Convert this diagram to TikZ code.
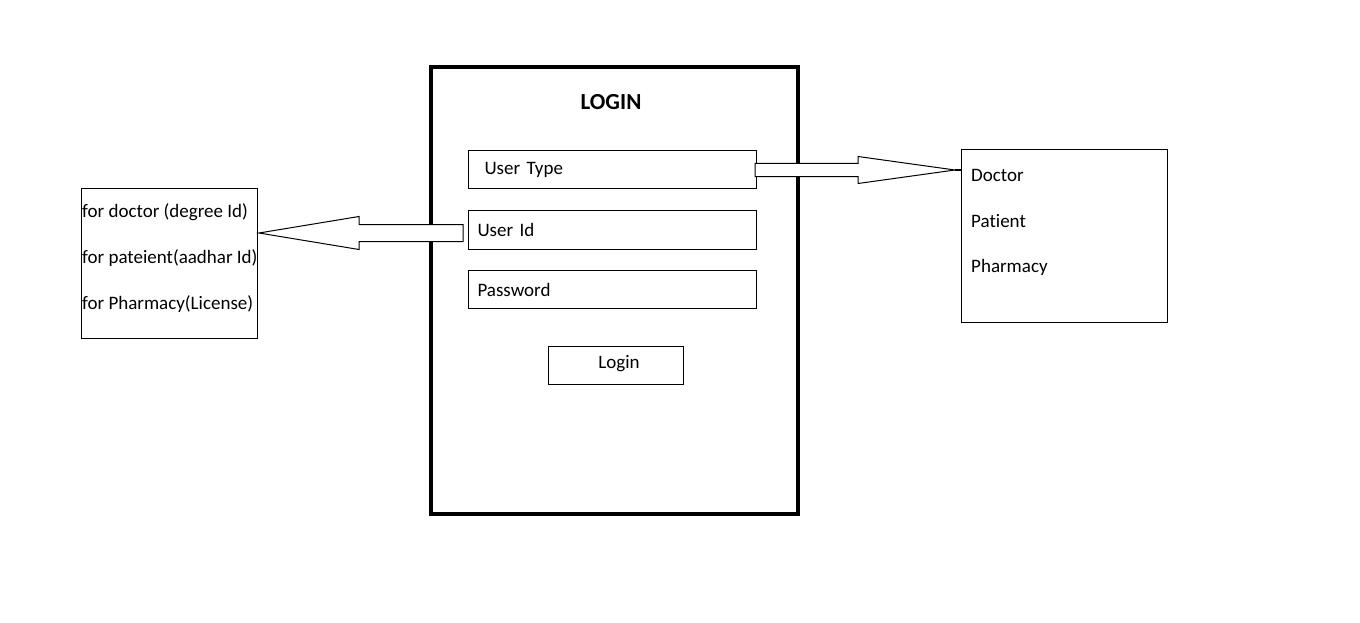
\documentclass[tikz,border=0pt]{standalone}
\usepackage{fontspec}
\setmainfont{Carlito}[Ligatures=NoCommon]
\usepackage{tikz}
\usetikzlibrary{calc}
\usetikzlibrary{positioning}
\tikzstyle{field} = [draw, rectangle, line width=1, anchor=north west, align=left, font=\fontsize{19}{23}\selectfont]
\tikzstyle{listbox} = [draw, rectangle, line width=1, anchor=north west, inner sep=0]
\tikzstyle{item} = [anchor=west, inner sep=0, font=\fontsize{19}{23}\selectfont]
\tikzstyle{blockarrow} = [draw, line width=1, fill=white, line join=miter]

\begin{document}
\begin{tikzpicture}[x=1pt, y=-1pt]
\useasboundingbox (0,0) rectangle (1360,623);
% login window
\node [draw, rectangle, line width=4, minimum width=367, minimum height=447, inner sep=0] (frame) at (614.5, 290.5) {};
\node [font=\bfseries\fontsize{23}{27}\selectfont, inner sep=0] (title) at (611, 102) {LOGIN};
\node [field, inner xsep=16, text width=256, minimum height=38] (utype) at (468, 150) {User Type};
\node [field, inner xsep=9, text width=270, minimum height=39] (uid) at (468, 210) {User Id};
\node [field, inner xsep=9, text width=270, minimum height=38] (pwd) at (468, 270) {Password};
\node [draw, rectangle, line width=1, minimum width=135, minimum height=38, inner sep=0] (btn) at (615.5, 365) {};
\node [item, anchor=center] (btntext) at (619, 364) {Login};
% user types
\node [listbox, minimum width=206, minimum height=173] (roles) at (961, 149) {};
\node [item] (doc) at (971, 175) {Doctor};
\node [item] (pat) at (971, 221) {Patient};
\node [item] (pha) at (971, 267) {Pharmacy};
% id per user type
\node [listbox, minimum width=176, minimum height=150] (ids) at (81, 188) {};
\node [item] (docid) at (82, 212) {for doctor (degree Id)};
\node [item] (patid) at (82, 258) {for pateient(aadhar Id)};
\node [item] (phaid) at (82, 304) {for Pharmacy(License)};
% arrows
\coordinate (rs) at ($(utype.east)+(-2,0.5)$);
\coordinate (rtip) at ($(roles.north west)+(-6,21)$);
\draw [blockarrow] ($(rs)+(0,-6.5)$) -- ($(rs)+(103,-6.5)$) -- ($(rs)+(103,-13.5)$) -- (rtip)
  -- ($(rs)+(103,13.5)$) -- ($(rs)+(103,6.5)$) -- ($(rs)+(0,6.5)$) -- cycle;
\draw [line width=2] (rtip) -- (rtip -| roles.west);
\coordinate (ls) at ($(uid.west)+(-5,3)$);
\coordinate (ltip) at ($(ids.north east)+(1,45)$);
\draw [blockarrow] ($(ls)+(0,-8.5)$) -- ($(ls)+(-104,-8.5)$) -- ($(ls)+(-104,-16.5)$) -- (ltip)
  -- ($(ls)+(-104,16.5)$) -- ($(ls)+(-104,8.5)$) -- ($(ls)+(0,8.5)$) -- cycle;
\end{tikzpicture}
\end{document}
